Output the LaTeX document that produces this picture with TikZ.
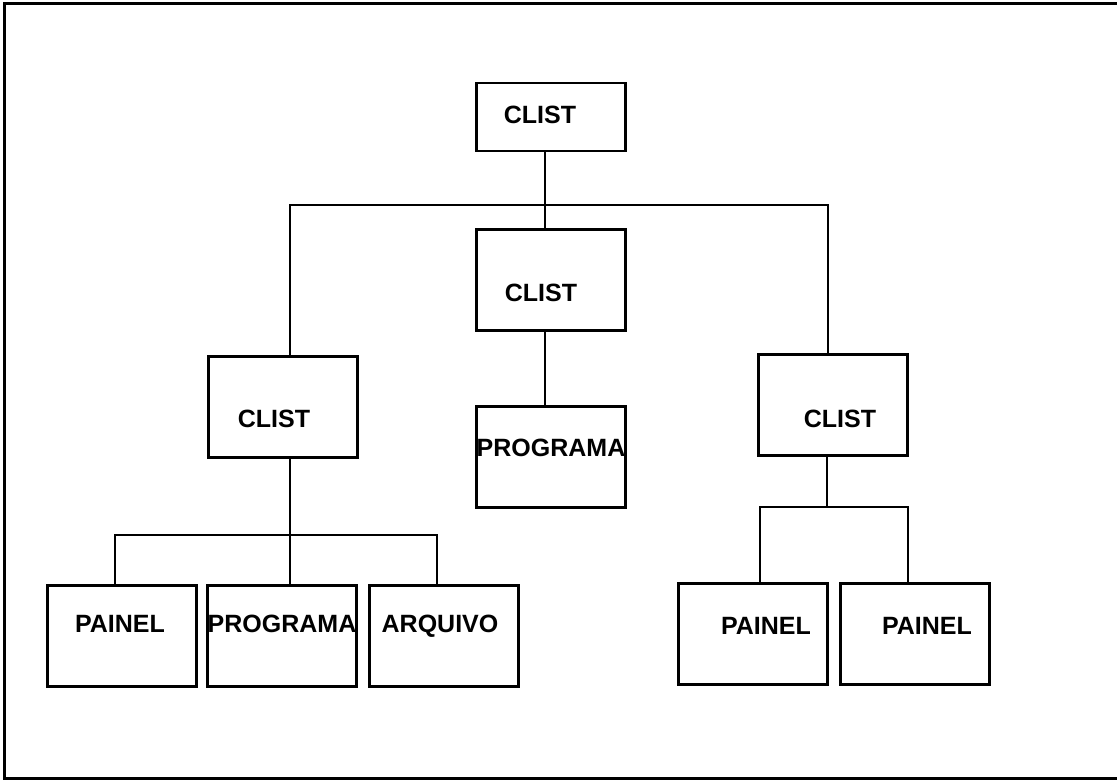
\documentclass[tikz,border=0pt]{standalone}
\usepackage{fontspec}
\setmainfont{Liberation Sans}
\usepackage{tikz}
\tikzset{
  caixa/.style={draw, line width=1.2pt, minimum width=74.5pt, minimum height=50.5pt, inner sep=0pt},
  rotulo/.style={font=\fontsize{12.5}{15}\selectfont\bfseries, inner sep=0pt, text height=9pt, text depth=0pt},
  liga/.style={line width=1pt}
}

\begin{document}
\begin{tikzpicture}[x=0.5pt, y=-0.5pt]
\useasboundingbox (0,0) rectangle (1117,781);
\draw[line width=1.5pt] (1117,4) -- (4,4) -- (4,778) -- (1117,778);

\node[caixa, minimum height=34pt] (c0) at (551,117) {};
\node[caixa] (c1) at (551,280) {};
\node[caixa] (p1) at (551,457) {};
\node[caixa] (c2) at (283,407) {};
\node[caixa] (c3) at (833,405) {};
\node[caixa] (f1) at (122,636) {};
\node[caixa] (f2) at (282,636) {};
\node[caixa] (f3) at (444,636) {};
\node[caixa] (f4) at (753,634) {};
\node[caixa] (f5) at (915,634) {};

\node[rotulo] (t0) at (540,114) {CLIST};
\node[rotulo] (t1) at (541,292) {CLIST};
\node[rotulo] (tp1) at (551,447) {PROGRAMA};
\node[rotulo] (t2) at (274,418) {CLIST};
\node[rotulo] (t3) at (840,418) {CLIST};
\node[rotulo] (tf1) at (120,623) {PAINEL};
\node[rotulo] (tf2) at (282,623) {PROGRAMA};
\node[rotulo] (tf3) at (440,623) {ARQUIVO};
\node[rotulo] (tf4) at (766,625) {PAINEL};
\node[rotulo] (tf5) at (927,625) {PAINEL};

\coordinate (b1w) at (290,205);
\coordinate (b1) at (545,205);
\coordinate (b1e) at (828,205);
\draw[liga] (c0.south -| b1) -- (c1.north -| b1);
\draw[liga] (c2.north -| b1w) -- (b1w) -- (b1e) -- (c3.north -| b1e);
\draw[liga] (c1.south -| b1) -- (p1.north -| b1);

\coordinate (b2w) at (115,535);
\coordinate (b2) at (290,535);
\coordinate (b2e) at (437,535);
\draw[liga] (c2.south -| b2) -- (f2.north -| b2);
\draw[liga] (f1.north -| b2w) -- (b2w) -- (b2e) -- (f3.north -| b2e);

\coordinate (b3w) at (760,507);
\coordinate (b3) at (827,507);
\coordinate (b3e) at (908,507);
\draw[liga] (c3.south -| b3) -- (b3);
\draw[liga] (f4.north -| b3w) -- (b3w) -- (b3e) -- (f5.north -| b3e);
\end{tikzpicture}
\end{document}
